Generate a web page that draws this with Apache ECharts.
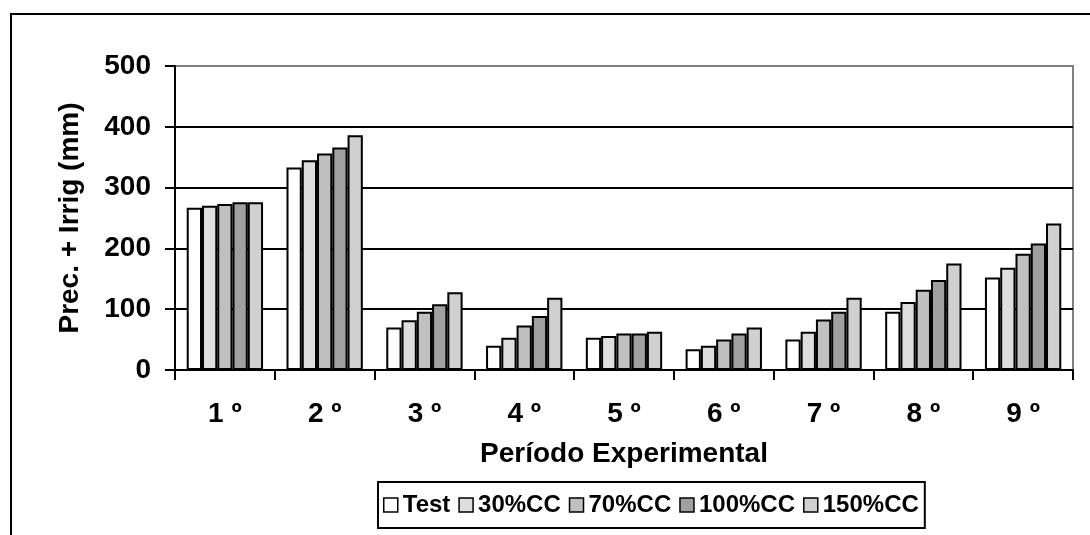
<!DOCTYPE html>
<html>
<head>
<meta charset="utf-8">
<script src="https://cdn.jsdelivr.net/npm/echarts@6/dist/echarts.min.js"></script>
<style>
  html, body { margin: 0; padding: 0; background: #fff; }
  #chart { width: 1090px; height: 535px; }
</style>
</head>
<body>
<div id="chart"></div>
<script>
// Experimental periods (x axis categories)
const periods = ['1º', '2º', '3º', '4º', '5º', '6º', '7º', '8º', '9º'];

// Precipitation + irrigation (mm) per treatment
const test   = [267, 333, 70, 40, 53, 34, 50, 96, 152];
const cc30   = [270, 345, 82, 53, 56, 40, 63, 112, 168];
const cc70   = [273, 356, 96, 73, 60, 50, 83, 132, 191];
const cc100  = [276, 366, 108, 89, 60, 60, 96, 148, 208];
const cc150  = [276, 386, 128, 119, 63, 70, 119, 175, 241];

const seriesNames = ['Test', '30%CC', '70%CC', '100%CC', '150%CC'];
const seriesData = [test, cc30, cc70, cc100, cc150];
const fills = ['#FFFFFF', '#DEDEDE', '#C0C0C0', '#A0A0A0', '#D0D0D0'];

const FONT = '"Liberation Sans", Arial, sans-serif';

const chart = echarts.init(document.getElementById('chart'), null, { renderer: 'canvas' });

chart.setOption({
  backgroundColor: '#fff',
  animation: false,
  graphic: [{
    type: 'rect',
    shape: { x: 11, y: 14, width: 1200, height: 700 },
    style: { fill: 'none', stroke: '#000', lineWidth: 2 },
    z: 0
  }],
  grid: {
    left: 175, top: 66, right: 17, bottom: 165,
    show: true, borderColor: '#808080', borderWidth: 2, backgroundColor: 'transparent'
  },
  legend: {
    data: seriesNames,
    left: 378, top: 482,
    orient: 'horizontal',
    icon: 'rect',
    itemWidth: 14, itemHeight: 14,
    itemGap: 8,
    padding: [11, 6, 11, 5],
    borderColor: '#000', borderWidth: 2,
    textStyle: { fontFamily: FONT, fontWeight: 'bold', fontSize: 24, color: '#000' },
    itemStyle: { borderColor: '#000', borderWidth: 1.5 }
  },
  xAxis: {
    type: 'category',
    data: periods,
    boundaryGap: true,
    axisLine: { lineStyle: { color: '#000', width: 2 } },
    axisTick: { show: true, length: 10, lineStyle: { color: '#000', width: 2 } },
    axisLabel: {
      fontFamily: FONT, fontWeight: 'bold', fontSize: 28, color: '#000', margin: 30,
      formatter: v => v.replace('º', ' º')
    },
    name: 'Período Experimental',
    nameLocation: 'middle',
    nameGap: 70,
    nameTextStyle: { fontFamily: FONT, fontWeight: 'bold', fontSize: 28, color: '#000' }
  },
  yAxis: {
    type: 'value',
    min: 0, max: 500, interval: 100,
    axisLine: { show: true, lineStyle: { color: '#000', width: 2 } },
    axisTick: { show: true, length: 10, lineStyle: { color: '#000', width: 2 } },
    axisLabel: { fontFamily: FONT, fontWeight: 'bold', fontSize: 28, color: '#000', margin: 24 },
    splitLine: { show: true, lineStyle: { color: ['#000', '#000', '#000', '#000', '#000', '#808080'], width: 2 } },
    name: 'Prec. + Irrig (mm)',
    nameLocation: 'middle',
    nameGap: 91,
    nameTextStyle: { fontFamily: FONT, fontWeight: 'bold', fontSize: 28, color: '#000' }
  },
  series: seriesNames.map((name, i) => ({
    name,
    type: 'bar',
    data: seriesData[i],
    barGap: '0%',
    barCategoryGap: '23.5%',
    itemStyle: { color: fills[i], borderColor: '#000', borderWidth: 2 }
  }))
});
</script>
</body>
</html>
